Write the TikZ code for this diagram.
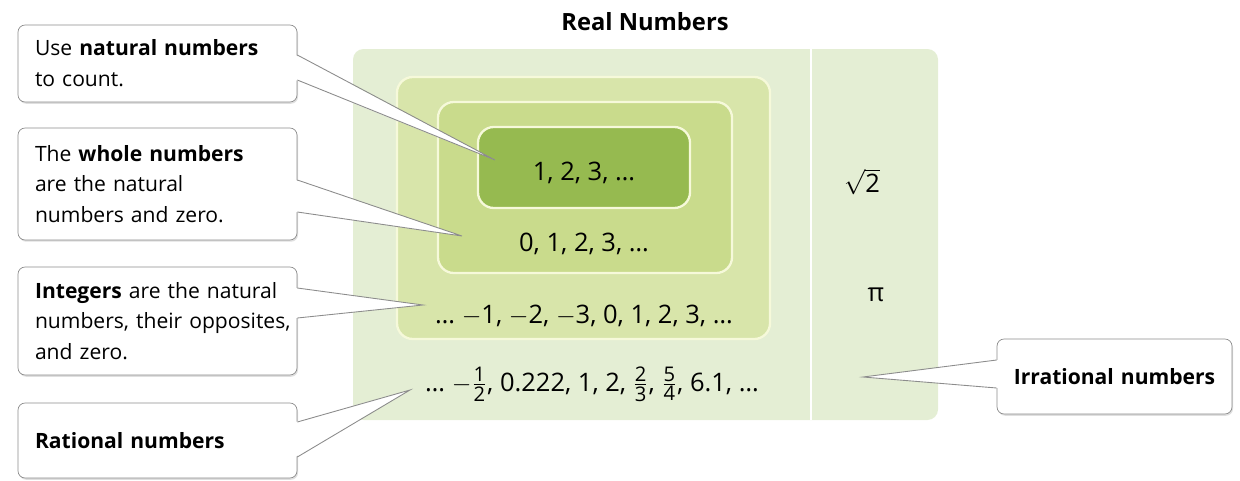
\documentclass[tikz,border=0pt]{standalone}
\usepackage{amsmath}
\usepackage{fontspec}
\setmainfont{Open Sans}
\usetikzlibrary{calc,shadows}

\definecolor{realfill}{RGB}{228,238,212}
\definecolor{intfill}{RGB}{216,229,170}
\definecolor{wholefill}{RGB}{201,219,140}
\definecolor{natfill}{RGB}{150,186,80}
\definecolor{setedge}{RGB}{246,249,218}
\definecolor{noteedge}{RGB}{140,140,140}

\newcommand{\tfr}[2]{$\frac{\text{\fontsize{11.5}{12}\selectfont #1}}{\text{\fontsize{11.5}{12}\selectfont #2}}$}

\tikzset{
  notebox/.style={draw=noteedge, fill=white, rounded corners=4pt, text width=4.9cm, align=left,
    inner xsep=0.34cm, drop shadow={opacity=0.25, shadow xshift=0.6pt, shadow yshift=-1pt}},
  ptr/.style={draw=noteedge, line width=0.5pt},
  setbox/.style={draw=setedge, line width=1.3pt, rounded corners=9pt},
  setrow/.style={font=\fontsize{14.5}{17}\selectfont}
}

\begin{document}
\begin{tikzpicture}[x=0.02cm, y=-0.02cm, font=\fontsize{12}{17.5}\selectfont]
  \useasboundingbox (0,0) rectangle (1240,480);

  \node[font=\fontsize{13.5}{17}\selectfont\bfseries] (title) at (645,22) {Real Numbers};

  % nested sets
  \fill[realfill, rounded corners=6pt] (353,49) rectangle (938,420);
  \draw[white, line width=1.5pt] (811,49) -- (811,420);
  \filldraw[setbox, fill=intfill] (397,77) rectangle (770,339);
  \filldraw[setbox, fill=wholefill] (438,102) rectangle (732,273);
  \filldraw[setbox, fill=natfill] (478,127) rectangle (690,208);

  \node[setrow] (natrow) at (584,173) {1, 2, 3, \dots};
  \node[setrow] (wholerow) at (584,244) {0, 1, 2, 3, \dots};
  \node[setrow] (introw) at (584,316) {\dots\ $-$1, $-$2, $-$3, 0, 1, 2, 3, \dots};
  \node[setrow] (ratrow) at (592,384) {\dots\ $-$\tfr{1}{2}, 0.222, 1, 2, \tfr{2}{3}, \tfr{5}{4}, 6.1, \dots};
  \node[setrow] (sqrttwo) at (862,182) {$\sqrt{\text{2}}$};
  \node[setrow] (pinum) at (876,295) {π};

  % callouts
  \node[notebox, minimum height=1.54cm] (natnote) at (157.5,63.5)
    {Use \textbf{natural numbers}\\to count.};
  \node[notebox, minimum height=2.24cm] (wholenote) at (157.5,184)
    {The \textbf{whole numbers}\\are the natural\\numbers and zero.};
  \node[notebox, minimum height=2.16cm] (intnote) at (157.5,321)
    {\mbox{\textbf{Integers} are the natural}\\\mbox{numbers, their opposites,}\\and zero.};
  \node[notebox, minimum height=1.5cm] (ratnote) at (157.5,440.5)
    {\textbf{Rational numbers}};
  \node[notebox, text width=4.3cm, inner xsep=0.2cm, align=center, minimum height=1.5cm] (irrnote) at (1114.5,376.5)
    {\textbf{Irrational numbers}};

  \coordinate (natTip) at (495,160);
  \coordinate (wholeTip) at (462,236);
  \coordinate (intTip) at (423,305);
  \coordinate (ratTip) at (410,390);
  \coordinate (irrTip) at (863,377);

  \fill[white] ($(natnote.east)+(-2,-8.5)$) -- (natTip) -- ($(natnote.east)+(-2,16.5)$) -- cycle;
  \draw[ptr] ($(natnote.east)+(0,-8.5)$) -- (natTip) -- ($(natnote.east)+(0,16.5)$);
  \fill[white] ($(wholenote.east)+(-2,-4)$) -- (wholeTip) -- ($(wholenote.east)+(-2,28)$) -- cycle;
  \draw[ptr] ($(wholenote.east)+(0,-4)$) -- (wholeTip) -- ($(wholenote.east)+(0,28)$);
  \fill[white] ($(intnote.east)+(-2,-33)$) -- (intTip) -- ($(intnote.east)+(-2,-3)$) -- cycle;
  \draw[ptr] ($(intnote.east)+(0,-33)$) -- (intTip) -- ($(intnote.east)+(0,-3)$);
  \fill[white] ($(ratnote.east)+(-2,-18.5)$) -- (ratTip) -- ($(ratnote.east)+(-2,16.5)$) -- cycle;
  \draw[ptr] ($(ratnote.east)+(0,-18.5)$) -- (ratTip) -- ($(ratnote.east)+(0,16.5)$);
  \fill[white] ($(irrnote.west)+(2,-16.5)$) -- (irrTip) -- ($(irrnote.west)+(2,11.5)$) -- cycle;
  \draw[ptr] ($(irrnote.west)+(0,-16.5)$) -- (irrTip) -- ($(irrnote.west)+(0,11.5)$);
\end{tikzpicture}
\end{document}
